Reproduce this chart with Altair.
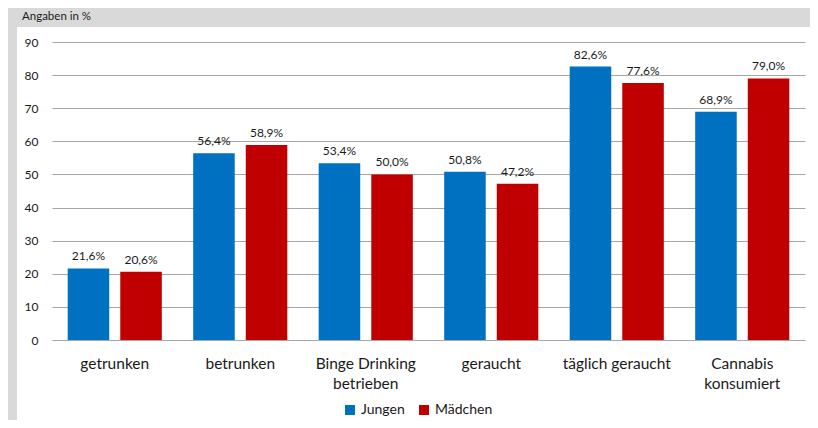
import altair as alt
import pandas as pd

categories = ["getrunken", "betrunken", "Binge Drinking\nbetrieben", "geraucht",
              "täglich geraucht", "Cannabis\nkonsumiert"]
jungen = [21.6, 56.4, 53.4, 50.8, 82.6, 68.9]
maedchen = [20.6, 58.9, 50.0, 47.2, 77.6, 79.0]
groups = ["Jungen", "Mädchen"]
colors = ["#0070C0", "#C00000"]
y_ticks = [0, 10, 20, 30, 40, 50, 60, 70, 80, 90]

rows = []
for c, j, m in zip(categories, jungen, maedchen):
    rows.append({"kat": c, "gruppe": "Jungen", "wert": j})
    rows.append({"kat": c, "gruppe": "Mädchen", "wert": m})
df = pd.DataFrame(rows)

FONT = "Lato"
W, H = 753, 298

x_enc = alt.X("kat:N", sort=categories,
              scale=alt.Scale(paddingInner=0.25, paddingOuter=0.125),
              axis=alt.Axis(title=None, labelAngle=0, domain=False, ticks=False,
                            labelPadding=16, labelFontSize=15.5, labelFont=FONT,
                            labelColor="#1a1a1a", labelLineHeight=20,
                            labelExpr="split(datum.label, '\\n')"))
xo_enc = alt.XOffset("gruppe:N", sort=groups, scale=alt.Scale(paddingInner=0.21, paddingOuter=0))
y_enc = alt.Y("wert:Q", scale=alt.Scale(domain=[0, 90], nice=False),
              axis=alt.Axis(title=None, values=y_ticks, domain=False, ticks=False,
                            labelPadding=14, labelFontSize=12, labelFont=FONT,
                            labelColor="#1a1a1a", gridColor="#a6a6a6", gridWidth=1))
col_enc = alt.Color("gruppe:N", sort=groups,
                    scale=alt.Scale(domain=groups, range=colors),
                    legend=alt.Legend(title=None, orient="none", direction="horizontal",
                                      legendX=291, legendY=361, symbolType="square",
                                      symbolSize=100, symbolStrokeWidth=0,
                                      labelFontSize=14, labelFont=FONT,
                                      labelColor="#1a1a1a", labelOffset=4,
                                      columnPadding=12))

base = alt.Chart(df)
bars = base.mark_bar().encode(x=x_enc, xOffset=xo_enc, y=y_enc, color=col_enc)
labels = base.mark_text(baseline="alphabetic", dy=-8, font=FONT, fontSize=12,
                        color="#1a1a1a").transform_calculate(
    lab="replace(format(datum.wert, '.1f'), '.', ',') + '%'"
).encode(x=x_enc, xOffset=xo_enc, y=y_enc, text="lab:N")

band_df = pd.DataFrame({"t": ["Angaben in %"]})
top_band = alt.Chart(band_df).mark_rect(color="#d9d9d9").encode(
    x=alt.value(-44), x2=alt.value(W + 10), y=alt.value(-34), y2=alt.value(-15))
left_band = alt.Chart(band_df).mark_rect(color="#d9d9d9").encode(
    x=alt.value(-44), x2=alt.value(-35), y=alt.value(-34), y2=alt.value(H + 90))
title = alt.Chart(band_df).mark_text(align="left", baseline="alphabetic", font=FONT,
                                     fontSize=11.5, color="#1a1a1a").encode(
    x=alt.value(-30), y=alt.value(-22.3), text="t:N")

chart = alt.layer(top_band, left_band, title, bars, labels).properties(
    width=W, height=H,
    autosize=alt.AutoSizeParams(type="none"),
    padding={"left": 44, "top": 34, "right": 5, "bottom": 80},
    background="white",
).configure_view(stroke=None)

chart.save("out.html", embed_options={"renderer": "svg", "actions": False})
